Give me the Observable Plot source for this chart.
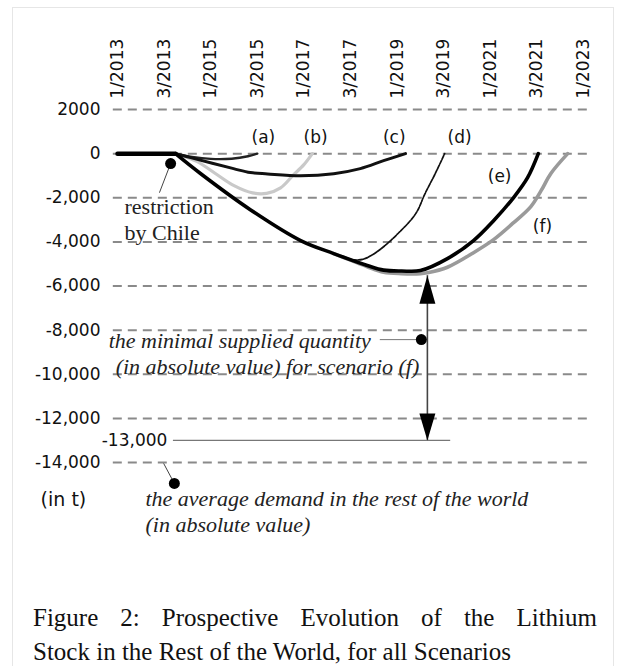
<!DOCTYPE html>
<html><head><meta charset="utf-8">
<script src="https://cdn.jsdelivr.net/npm/d3@7"></script>
<script src="https://cdn.jsdelivr.net/npm/@observablehq/plot@0.6"></script>
<style>
body{margin:0;background:#fff;}
#wrap{position:relative;width:618px;height:666px;overflow:hidden;background:#fff;}
#frame{position:absolute;left:12px;top:7px;width:600px;height:700px;border:1px solid #e6e6e6;pointer-events:none;}
.cap{position:absolute;left:33px;width:564px;font-family:"Liberation Serif","Times New Roman",serif;font-size:25px;line-height:35px;color:#111;}
#cap1{top:600px;text-align:justify;text-align-last:justify;}
#cap2{top:634px;white-space:nowrap;}
#chart{position:absolute;left:0;top:0;}
</style></head>
<body><div id="wrap"><div id="chart"></div><div id="frame"></div>
<div class="cap" id="cap1">Figure 2: Prospective Evolution of the Lithium</div>
<div class="cap" id="cap2">Stock in the Rest of the World, for all Scenarios</div></div>
<script>
// ---- data (x = tick index of the period axis, v = stock in t) ----
const xTickLabels = ["1/2013","3/2013","1/2015","3/2015","1/2017","3/2017","1/2019","3/2019","1/2021","3/2021","1/2023"];
const yTickValues = [2000, 0, -2000, -4000, -6000, -8000, -10000, -12000, -14000];
const scenarioLabels = ["(a)","(b)","(c)","(d)","(e)","(f)"];

const flatT = [0, 1.245];
const flatV = [0, 0];
const aT = [1.245, 1.6, 2.0, 2.45, 2.8, 3.0];
const aV = [0, -150, -240, -230, -120, 0];
const bT = [1.245, 1.7, 2.1, 2.5, 2.9, 3.2, 3.5, 3.76, 4.0, 4.18];
const bV = [0, -350, -900, -1450, -1780, -1800, -1550, -1000, -500, 0];
const cT = [1.245, 1.57, 2.49, 2.85, 3.22, 3.93, 4.64, 5.21, 5.71, 6.18];
const cV = [0, -180, -680, -860, -920, -1000, -910, -680, -320, 0];
const dT = [4.64, 5.0, 5.28, 5.6, 6.02, 6.4, 6.6, 6.82, 7.02];
const dV = [-4530, -4800, -4780, -4400, -3620, -2720, -1810, -900, 0];
const eT = [1.245, 1.78, 2.85, 3.93, 4.64, 5.36, 5.71, 6.1, 6.5, 7.08, 7.64, 8.07, 8.5, 8.8, 9.03];
const eV = [0, -900, -2540, -3940, -4530, -5070, -5280, -5320, -5300, -4760, -3940, -3040, -1990, -1090, 0];
const fT = [4.64, 5.0, 5.36, 5.71, 6.1, 6.5, 6.65, 7.08, 7.64, 8.07, 8.5, 8.87, 9.09, 9.3, 9.66];
const fV = [-4530, -4830, -5130, -5380, -5440, -5440, -5400, -5150, -4490, -3900, -3130, -2400, -1680, -900, 0];
const minSupplyF = -5300;   // minimal supplied quantity, scenario (f)
const avgDemand = -13000;   // average demand in the rest of the world

const rows = (t, v) => t.map((d, i) => ({t: d, v: v[i]}));
const fmtY = d => d === 2000 ? "2000" : (d < 0 ? "-" : "") + d3.format(",")(Math.abs(d));

const upHead = {draw(ctx){ctx.moveTo(0,0);ctx.lineTo(8,28);ctx.lineTo(-8,28);ctx.closePath();}};
const downHead = {draw(ctx){ctx.moveTo(0,0);ctx.lineTo(8,-27);ctx.lineTo(-8,-27);ctx.closePath();}};

const serif = "Liberation Serif, Times New Roman, serif";
const sans = "DejaVu Sans, Verdana, sans-serif";
const lbl = (i, t, v) => ({text: scenarioLabels[i], t, v});

const plot = Plot.plot({
  width: 618, height: 590,
  marginLeft: 117, marginRight: 35, marginTop: 109, marginBottom: 128,
  x: {domain: [0, 10]},
  y: {domain: [-14000, 2000]},
  style: {fontFamily: sans, fontSize: "17px", color: "#111", background: "#fff", overflow: "visible"},
  marks: [
    Plot.ruleY(yTickValues, {x1: -0.09, x2: 10.15, stroke: "#8a8a8a", strokeWidth: 2, strokeDasharray: "9,6"}),
    Plot.axisX({anchor: "top", ticks: d3.range(xTickLabels.length), tickFormat: i => xTickLabels[i],
      tickRotate: -90, tickSize: 0, tickPadding: 11, label: null, fill: "#111"}),
    Plot.axisY({ticks: yTickValues, tickFormat: fmtY, tickSize: 0, tickPadding: 17, label: null, fill: "#111"}),
    // average demand line
    Plot.ruleY([avgDemand], {x1: 1.2, x2: 7.15, stroke: "#777", strokeWidth: 1.2}),
    Plot.text([avgDemand], {x: 1.07, y: d => d, text: d => fmtY(d), textAnchor: "end", lineAnchor: "middle", fontFamily: sans, fontSize: 17}),
    // curves
    Plot.line(rows(bT, bV), {x: "t", y: "v", curve: "catmull-rom", stroke: "#c9c9c9", strokeWidth: 3.2}),
    Plot.line(rows(fT, fV), {x: "t", y: "v", curve: "catmull-rom", stroke: "#9a9a9a", strokeWidth: 3.6}),
    Plot.line(rows(aT, aV), {x: "t", y: "v", curve: "catmull-rom", stroke: "#222", strokeWidth: 2.4}),
    Plot.line(rows(cT, cV), {x: "t", y: "v", curve: "catmull-rom", stroke: "#111", strokeWidth: 3}),
    Plot.line(rows(dT, dV), {x: "t", y: "v", curve: "catmull-rom", stroke: "#111", strokeWidth: 1.7, strokeDasharray: "4,1.2"}),
    Plot.line(rows(eT, eV), {x: "t", y: "v", curve: "catmull-rom", stroke: "#000", strokeWidth: 3.6}),
    Plot.line(rows(flatT, flatV), {x: "t", y: "v", stroke: "#000", strokeWidth: 4.5}),
    // scenario labels
    Plot.text([lbl(0,3.13,725), lbl(1,4.25,725), lbl(2,5.94,725), lbl(3,7.34,725), lbl(4,8.2,-1040), lbl(5,9.12,-3310)],
      {x: "t", y: "v", text: "text", lineAnchor: "middle", fontFamily: sans, fontSize: 17}),
    // restriction by Chile
    Plot.link([0], {x1: 1.14, y1: -450, x2: 0.9, y2: -1770, stroke: "#444", strokeWidth: 1}),
    Plot.dot([0], {x: 1.14, y: -450, r: 5.5, fill: "#000"}),
    Plot.text(["restriction", "by Chile"], {x: 0.15, y: (d, i) => [-2719, -3897][i], text: d => d,
      textAnchor: "start", lineAnchor: "bottom", fontFamily: serif, fontSize: 22, fill: "#222"}),
    // double arrow for scenario (f)
    Plot.ruleX([6.65], {y1: minSupplyF - 230, y2: avgDemand, stroke: "#444", strokeWidth: 1.6}),
    Plot.dot([0], {x: 6.65, y: minSupplyF - 230, symbol: upHead, fill: "#000", stroke: "none"}),
    Plot.dot([0], {x: 6.65, y: avgDemand, symbol: downHead, fill: "#000", stroke: "none"}),
    Plot.ruleY([-8430], {x1: 5.64, x2: 6.52, stroke: "#777", strokeWidth: 1}),
    Plot.dot([0], {x: 6.52, y: -8430, r: 5.5, fill: "#000"}),
    Plot.text(["the minimal supplied quantity"], {x: -0.19, y: -8790, text: d => d, textAnchor: "start", lineAnchor: "bottom",
      fontFamily: serif, fontStyle: "italic", fontSize: 22, fill: "#222"}),
    Plot.text(["(in absolute value) for scenario (f)"], {x: -0.04, y: -9968, text: d => d, textAnchor: "start", lineAnchor: "bottom",
      fontFamily: serif, fontStyle: "italic", fontSize: 22, fill: "#222"}),
    // average demand annotation
    Plot.link([0], {x1: 0.99, y1: -14040, x2: 1.22, y2: -14950, stroke: "#444", strokeWidth: 1}),
    Plot.dot([0], {x: 1.22, y: -14950, r: 5.5, fill: "#000"}),
    Plot.text(["the average demand in the rest of the world", "(in absolute value)"], {x: 0.6, y: (d, i) => [-15950, -17170][i], text: d => d,
      textAnchor: "start", lineAnchor: "bottom", fontFamily: serif, fontStyle: "italic", fontSize: 22, fill: "#222"}),
    Plot.text(["(in t)"], {x: -1.65, y: -15950, text: d => d, textAnchor: "start", lineAnchor: "bottom", fontFamily: sans, fontSize: 19})
  ]
});
document.getElementById("chart").appendChild(plot);
</script>
</body></html>
